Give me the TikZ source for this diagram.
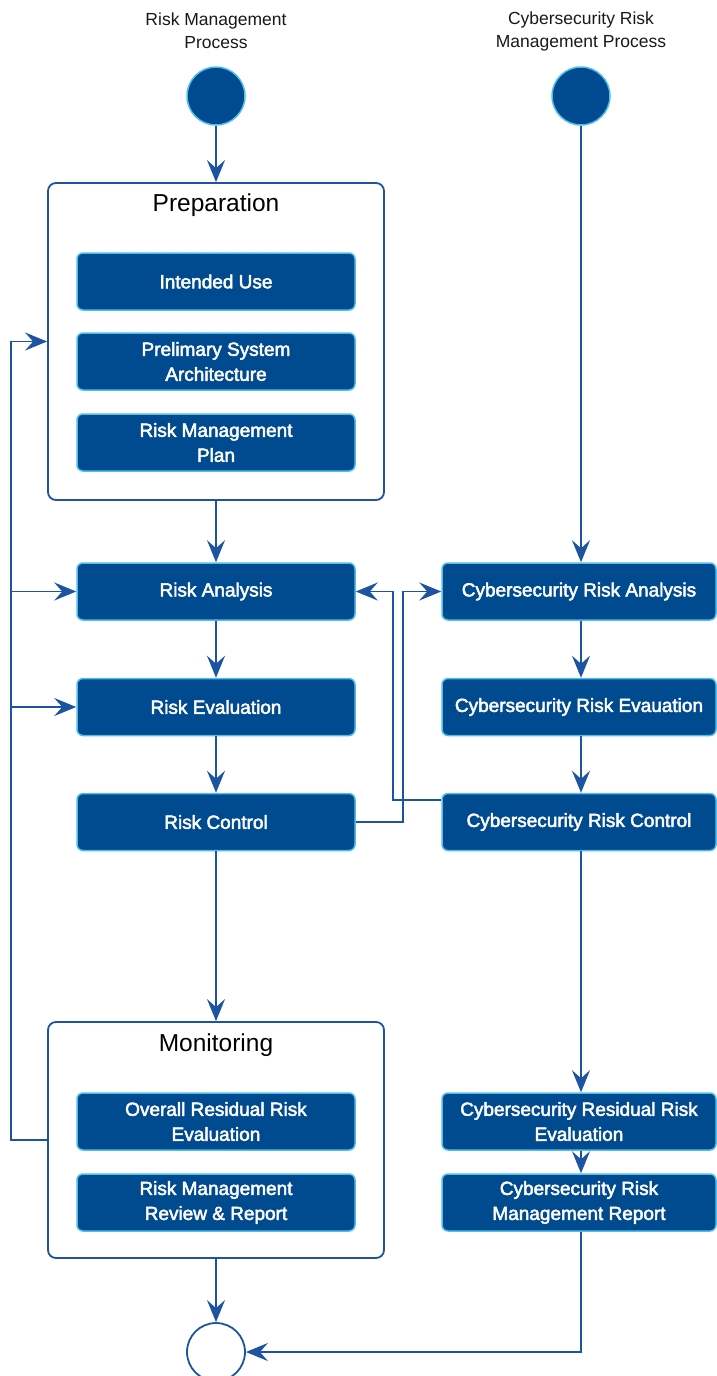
\documentclass[tikz,border=0pt]{standalone}
\usepackage{fontspec}
\setmainfont{Liberation Sans}
\newfontfamily\boxfont[FakeBold=2.5]{Liberation Sans}
\usetikzlibrary{arrows.meta}
\definecolor{boxblue}{RGB}{0,74,143}
\definecolor{rimblue}{RGB}{80,190,235}
\definecolor{lineblue}{RGB}{28,84,162}
\begin{document}
\begin{tikzpicture}[x=1pt, y=-1pt,
    stepbox/.style={rectangle, rounded corners=6pt, draw=rimblue, line width=1.5pt, fill=boxblue, text=white,
        minimum width=278pt, minimum height=57pt, inner sep=0pt, align=center, font=\boxfont\fontsize{19}{25}\selectfont},
    cyberbox/.style={stepbox, minimum width=274pt},
    groupbox/.style={rectangle, rounded corners=8pt, draw=lineblue, line width=1.8pt, fill=white, minimum width=336pt},
    grouptitle/.style={font=\fontsize{24.5}{28}\selectfont, text=black},
    toplabel/.style={font=\fontsize{17.5}{23}\selectfont, align=center, text=black!90},
    startdot/.style={circle, draw=rimblue, line width=1.5pt, fill=boxblue, minimum size=58pt, inner sep=0pt},
    enddot/.style={circle, draw=lineblue, line width=1.8pt, fill=white, minimum size=58pt, inner sep=0pt},
    flow/.style={draw=lineblue, line width=1.8pt, -{Stealth[length=22pt, width=18pt, inset=8pt]}},
    wire/.style={draw=lineblue, line width=1.8pt}]
    \useasboundingbox (0,0) rectangle (717,1376);

    % Headings
    \node[toplabel] (lab1) at (216,31) {Risk Management\\Process};
    \node[toplabel] (lab2) at (581,31) {Cybersecurity Risk\\Management Process};

    % Start and end points
    \node[startdot] (s1) at (216,96) {};
    \node[startdot] (s2) at (581,96) {};
    \node[enddot] (e) at (216,1352) {};

    % Preparation group
    \node[groupbox, minimum height=317pt] (prep) at (216,341.5) {};
    \node[grouptitle] (preptitle) at (216,205) {Preparation};
    \node[stepbox] (use) at (216,281.5) {Intended Use};
    \node[stepbox] (arch) at (216,361.5) {Prelimary System\\Architecture};
    \node[stepbox] (plan) at (216,442.5) {Risk Management\\Plan};

    % Risk management steps
    \node[stepbox] (ra) at (216,591.5) {Risk Analysis};
    \node[stepbox] (re) at (216,707) {Risk Evaluation};
    \node[stepbox] (rc) at (216,822) {Risk Control};

    % Monitoring group
    \node[groupbox, minimum height=236pt] (mon) at (216,1140) {};
    \node[grouptitle] (montitle) at (216,1045) {Monitoring};
    \node[stepbox] (orr) at (216,1121.5) {Overall Residual Risk\\Evaluation};
    \node[stepbox] (rmr) at (216,1202.5) {Risk Management\\Review \& Report};

    % Cybersecurity steps
    \node[cyberbox] (cra) at (579,591.5) {Cybersecurity Risk Analysis};
    \node[cyberbox] (cre) at (579,707) {Cybersecurity Risk Evauation};
    \node[cyberbox] (crc) at (579,822) {Cybersecurity Risk Control};
    \node[cyberbox] (crr) at (579,1121.5) {Cybersecurity Residual Risk\\Evaluation};
    \node[cyberbox] (crm) at (579,1202.5) {Cybersecurity Risk\\Management Report};

    % Junction lines
    \coordinate (fb) at (11,0);
    \coordinate (jl) at (393,0);
    \coordinate (jr) at (403,0);

    % Main flow
    \draw[flow] (s1) -- (prep);
    \draw[flow] (prep) -- (ra);
    \draw[flow] (ra) -- (re);
    \draw[flow] (re) -- (rc);
    \draw[flow] (rc) -- (mon);
    \draw[flow] (mon) -- (e);

    % Cybersecurity flow
    \draw[flow] (s2.south) -- (s2.south |- cra.north);
    \draw[flow] (cra.south -| s2) -- (cre.north -| s2);
    \draw[flow] (cre.south -| s2) -- (crc.north -| s2);
    \draw[flow] (crc.south -| s2) -- (crr.north -| s2);
    \draw[flow] (crr.south -| s2) -- (crm.north -| s2);
    \draw[flow] (crm.south -| s2) |- (e.east);

    % Cross links
    \draw[flow] (rc.east) -| (jr |- cra.west) -- (cra.west);
    \draw[flow] ([yshift=22pt]crc.west) -| (jl |- ra.east) -- (ra.east);

    % Feedback
    \draw[flow] (mon.west) -- (fb |- mon.west) |- (prep.west);
    \draw[flow] (fb |- ra.west) -- (ra.west);
    \draw[flow] (fb |- re.west) -- (re.west);
\end{tikzpicture}
\end{document}
